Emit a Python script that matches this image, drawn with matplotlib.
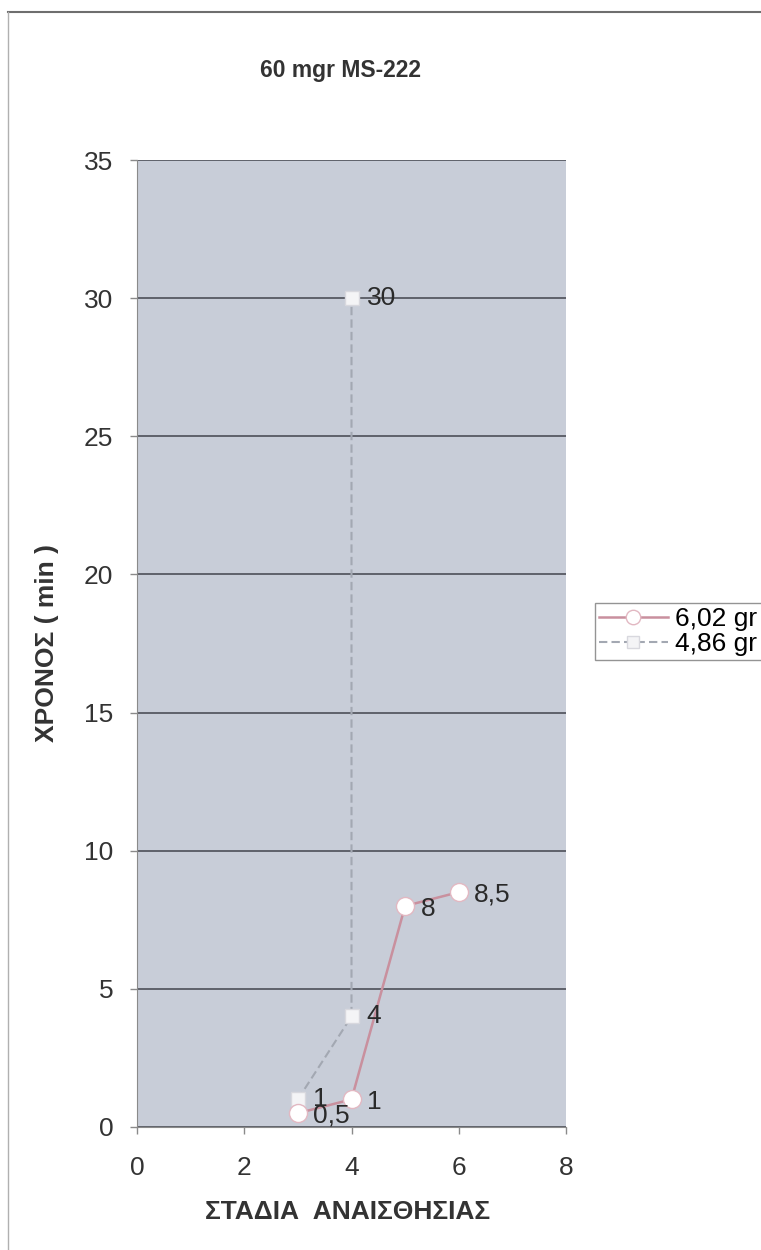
import matplotlib
matplotlib.use("Agg")
import matplotlib.pyplot as plt
from matplotlib.lines import Line2D

plt.rcParams['font.family'] = ['Liberation Sans', 'DejaVu Sans']

title = "60 mgr MS-222"
x_label = "ΣΤΑΔΙΑ  ΑΝΑΙΣΘΗΣΙΑΣ"
y_label = "ΧΡΟΝΟΣ ( min )"

s1_name = "6,02 gr"
s1_x = [3, 4, 5, 6]
s1_y = [0.5, 1, 8, 8.5]
s1_labels = ["0,5", "1", "8", "8,5"]

s2_name = "4,86 gr"
s2_x = [3, 4, 4]
s2_y = [1, 4, 30]
s2_labels = ["1", "4", "30"]

x_ticks = [0, 2, 4, 6, 8]
y_ticks = [0, 5, 10, 15, 20, 25, 30, 35]

W, H = 761, 1250
fig = plt.figure(figsize=(W / 100, H / 100), dpi=100)
fig.patch.set_facecolor('white')

# figure frame lines (top and left)
fig.add_artist(Line2D([8 / W, 1.0], [1 - 12 / H, 1 - 12 / H], transform=fig.transFigure,
                      color='#6e6e6e', lw=1.5))
fig.add_artist(Line2D([8 / W, 8 / W], [0, 1 - 12 / H], transform=fig.transFigure,
                      color='#b0b0b0', lw=1.0))

ax = fig.add_axes([137 / W, 1 - 1127 / H, (566 - 137) / W, (1127 - 160) / H])
ax.set_facecolor('#c8cdd8')
ax.set_xlim(0, 8)
ax.set_ylim(0, 35)
ax.set_xticks(x_ticks)
ax.set_yticks(y_ticks)
ax.set_xticklabels([str(v) for v in x_ticks])
ax.set_yticklabels([str(v) for v in y_ticks])
ax.tick_params(axis='both', labelsize=19, colors='#8a8a8a', labelcolor='#333333',
               length=5, width=1, direction='out')
ax.tick_params(axis='x', pad=16)
ax.tick_params(axis='y', pad=12)
ax.yaxis.grid(True, color='#4d5058', lw=1.2)
ax.set_axisbelow(True)
for side in ['top', 'right']:
    ax.spines[side].set_visible(False)
ax.spines['left'].set_color('#8a8a8a')
ax.spines['bottom'].set_color('#8a8a8a')

l2, = ax.plot(s2_x, s2_y, color='#a3a8b2', lw=1.5, ls=(0, (4, 2)), marker='s',
              markersize=10, markerfacecolor='#f4f4f6', markeredgecolor='#d8d8de', zorder=3)
l1, = ax.plot(s1_x, s1_y, color='#c9909e', lw=1.8, marker='o', markersize=13,
              markerfacecolor='white', markeredgecolor='#e2b8c2', zorder=4)

for xv, yv, t in zip(s2_x, s2_y, s2_labels):
    ax.annotate(t, (xv, yv), xytext=(11, 0), textcoords='offset points',
                ha='left', va='center', fontsize=19, color='#2a2a2a', zorder=5)
for xv, yv, t in zip(s1_x, s1_y, s1_labels):
    ax.annotate(t, (xv, yv), xytext=(11, -2), textcoords='offset points',
                ha='left', va='center', fontsize=19, color='#2a2a2a', zorder=5)

ax.set_xlabel(x_label, fontsize=19, fontweight='bold', color='#333333')
ax.set_ylabel(y_label, fontsize=19, fontweight='bold', color='#333333')
ax.xaxis.set_label_coords(0.49, (1127 - 1212) / 967, transform=ax.transAxes)
ax.xaxis.label.set_va('center')
ax.yaxis.set_label_coords((47 - 137) / 429, 0.5, transform=ax.transAxes)
ax.yaxis.label.set_va('center')

fig.text(340 / W, 1 - 70 / H, title, ha='center', va='center', fontsize=16.5,
         fontweight='bold', color='#333333')

leg = fig.legend([l1, l2], [s1_name, s2_name], loc='upper left',
                 bbox_to_anchor=(595 / W, 1 - 603 / H), fontsize=19,
                 frameon=True, fancybox=False, handlelength=2.6, handletextpad=0.3,
                 borderpad=0.15, labelspacing=0.05, borderaxespad=0, markerscale=0.8)
leg.get_frame().set_edgecolor('#7a7a7a')
leg.get_frame().set_linewidth(1.0)

fig.savefig('out.png', dpi=100)
